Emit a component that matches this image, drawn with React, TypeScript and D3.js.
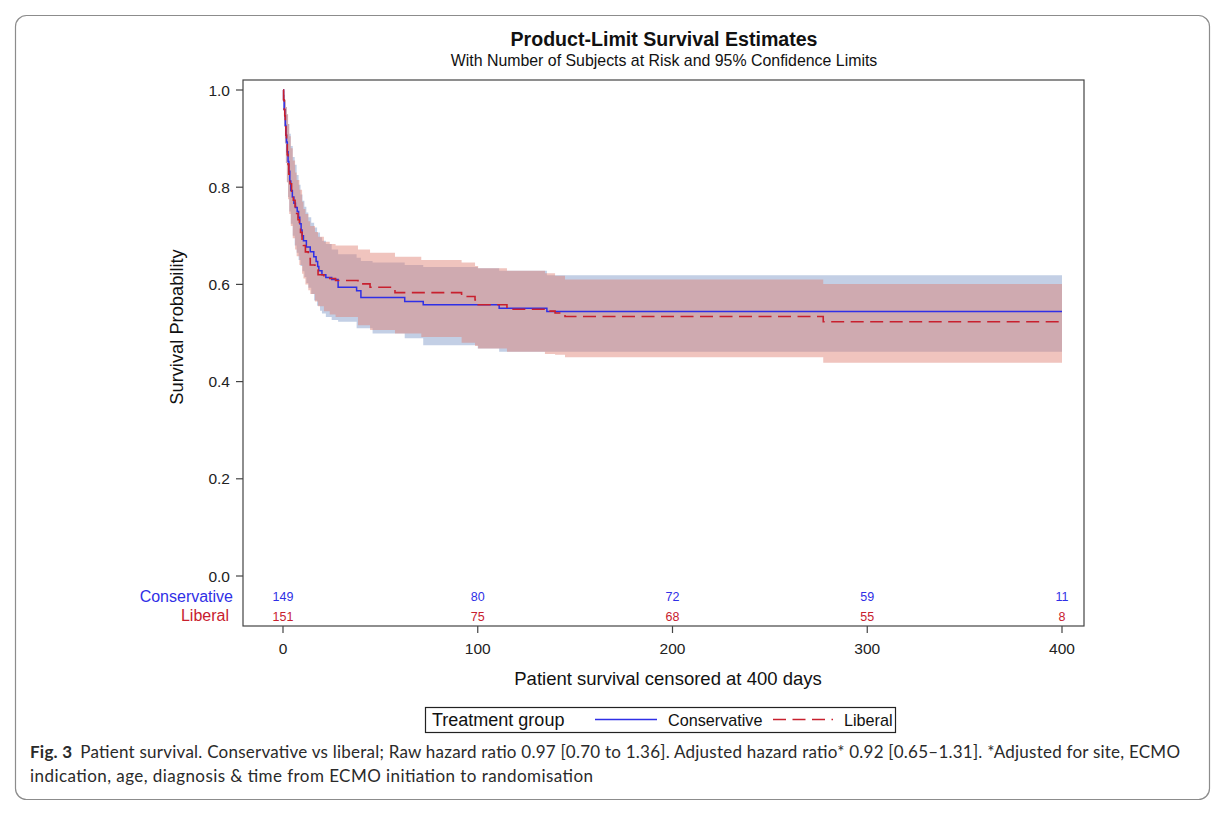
import React from 'react';
import * as d3 from 'd3';

// ---------- data ----------
const consTime = [0, 0.3, 0.6, 0.9, 1.2, 1.5, 1.8, 2.2, 2.6, 3.0, 3.5, 4.0, 4.8, 5.6, 6.4, 7.3, 8.0, 8.6, 9.3, 9.8, 10.5, 12, 14, 15.8, 17, 17.8, 18.4, 20, 22, 25, 28.3, 37.8, 40, 62.5, 72, 111, 135.5, 400];
const consSurv = [1, 0.98, 0.96, 0.947, 0.927, 0.907, 0.893, 0.873, 0.853, 0.833, 0.813, 0.793, 0.78, 0.767, 0.758, 0.75, 0.738, 0.725, 0.712, 0.7, 0.69, 0.677, 0.667, 0.657, 0.647, 0.637, 0.628, 0.62, 0.614, 0.61, 0.594, 0.587, 0.573, 0.565, 0.558, 0.551, 0.544, 0.544];

const libTime = [0, 0.3, 0.6, 0.9, 1.2, 1.5, 1.8, 2.2, 2.6, 3.0, 3.6, 4.4, 5.3, 6.2, 7.0, 7.7, 8.4, 9.0, 9.8, 10.5, 11.5, 13, 14, 16.4, 18, 21, 24, 27, 38.5, 44.7, 57.5, 91.7, 98.6, 100.2, 115, 134.5, 139.7, 144.8, 277.4, 400];
const libSurv = [1, 0.98, 0.96, 0.947, 0.927, 0.907, 0.887, 0.867, 0.847, 0.827, 0.807, 0.787, 0.773, 0.76, 0.746, 0.733, 0.72, 0.707, 0.693, 0.68, 0.667, 0.653, 0.64, 0.63, 0.62, 0.616, 0.612, 0.608, 0.601, 0.594, 0.583, 0.575, 0.568, 0.558, 0.549, 0.545, 0.541, 0.534, 0.523, 0.523];

const consBandTime = [0, 0.3, 0.6, 1.0, 1.5, 2.0, 2.6, 3.2, 4.0, 5.0, 6.0, 7.0, 8.0, 9.0, 10.0, 11.0, 12.0, 13.0, 14.5, 16.0, 17.5, 19.0, 20.0, 22.0, 25.0, 28.3, 37.8, 40, 46, 62.5, 72, 100, 111, 135.5, 400];
const consLower = [1, 0.96, 0.925, 0.89, 0.85, 0.81, 0.78, 0.75, 0.725, 0.7, 0.68, 0.665, 0.65, 0.638, 0.627, 0.615, 0.603, 0.593, 0.58, 0.567, 0.556, 0.546, 0.54, 0.533, 0.527, 0.523, 0.51, 0.51, 0.499, 0.489, 0.475, 0.468, 0.4615, 0.4615, 0.4615];
const consUpper = [1, 0.998, 0.99, 0.98, 0.965, 0.95, 0.93, 0.91, 0.885, 0.862, 0.846, 0.825, 0.805, 0.785, 0.772, 0.76, 0.748, 0.738, 0.727, 0.717, 0.707, 0.697, 0.69, 0.683, 0.672, 0.662, 0.655, 0.648, 0.645, 0.64, 0.636, 0.633, 0.628, 0.619, 0.619];

const libBandTime = [0, 0.3, 0.6, 1.0, 1.5, 2.0, 2.6, 3.2, 4.0, 5.0, 6.2, 7.0, 8.4, 9.8, 10.5, 11.5, 13, 14, 16.4, 18, 21, 24, 27, 38.5, 44.7, 57.5, 71, 91.7, 98.6, 100.2, 115, 134.5, 139.7, 144.8, 277.4, 400];
const libLower = [1, 0.96, 0.925, 0.89, 0.85, 0.81, 0.775, 0.745, 0.72, 0.695, 0.672, 0.658, 0.64, 0.622, 0.612, 0.6, 0.588, 0.58, 0.565, 0.555, 0.545, 0.538, 0.533, 0.516, 0.506, 0.499, 0.492, 0.48, 0.473, 0.468, 0.4615, 0.457, 0.455, 0.45, 0.439, 0.439];
const libUpper = [1, 0.998, 0.99, 0.98, 0.965, 0.95, 0.93, 0.905, 0.88, 0.855, 0.83, 0.815, 0.795, 0.77, 0.755, 0.745, 0.73, 0.72, 0.708, 0.698, 0.688, 0.683, 0.68, 0.672, 0.665, 0.657, 0.65, 0.645, 0.638, 0.633, 0.628, 0.623, 0.618, 0.61, 0.601, 0.601];

const xTicks = [0, 100, 200, 300, 400];
const yTicks = [0, 0.2, 0.4, 0.6, 0.8, 1.0];
const riskConservative = [149, 80, 72, 59, 11];
const riskLiberal = [151, 75, 68, 55, 8];
const groupNames = ['Conservative', 'Liberal'];

// ---------- styles ----------
const BLUE = '#2f2fe6';
const RED = '#c8202e';
const SANS = '"Liberation Sans", Arial, sans-serif';
const CAPTION = "Lato, 'Open Sans', sans-serif";

export default function App() {
  const left = 243, right = 1084, top = 80, bottom = 626;
  const x = d3.scaleLinear().domain([0, 400]).range([283, 1062]);
  const y = d3.scaleLinear().domain([0, 1]).range([576, 90]);

  const line = d3
    .line<[number, number]>()
    .x((d) => x(d[0]))
    .y((d) => y(d[1]))
    .curve(d3.curveStepAfter);

  type B = { t: number; lo: number; hi: number };
  const area = d3
    .area<B>()
    .x((d) => x(d.t))
    .y0((d) => y(d.lo))
    .y1((d) => y(d.hi))
    .curve(d3.curveStepAfter);

  const consPts = consTime.map((t, i) => [t, consSurv[i]] as [number, number]);
  const libPts = libTime.map((t, i) => [t, libSurv[i]] as [number, number]);
  const consBand: B[] = consBandTime.map((t, i) => ({ t, lo: consLower[i], hi: consUpper[i] }));
  const libBand: B[] = libBandTime.map((t, i) => ({ t, lo: libLower[i], hi: libUpper[i] }));

  return (
    <svg
      width={1220}
      height={816}
      style={{ position: 'absolute', left: 0, top: 0, background: '#fff' }}
      fontFamily={SANS}
    >
      <rect x={15.5} y={15.5} width={1194} height={784} rx={11} fill="#fff" stroke="#8c8c8c" strokeWidth={1.2} />

      {/* title */}
      <text x={664} y={46} textAnchor="middle" fontSize={19.6} fontWeight="bold" fill="#111">
        Product-Limit Survival Estimates
      </text>
      <text x={664} y={66} textAnchor="middle" fontSize={15.9} fill="#111">
        With Number of Subjects at Risk and 95% Confidence Limits
      </text>

      {/* bands */}
      <path d={area(consBand) || ''} fill="rgb(125,151,198)" fillOpacity={0.46} />
      <path d={area(libBand) || ''} fill="rgb(222,127,114)" fillOpacity={0.46} />

      {/* curves */}
      <path d={line(consPts) || ''} fill="none" stroke={BLUE} strokeWidth={1.5} />
      <path d={line(libPts) || ''} fill="none" stroke={RED} strokeWidth={1.6} strokeDasharray="13 6.5" />

      {/* frame */}
      <rect x={left} y={top} width={right - left} height={bottom - top} fill="none" stroke="#444" strokeWidth={1.2} />

      {/* y axis */}
      {yTicks.map((v) => (
        <g key={v}>
          <line x1={236} x2={left} y1={y(v)} y2={y(v)} stroke="#444" strokeWidth={1.2} />
          <text x={230} y={y(v) + 5.5} textAnchor="end" fontSize={15.5} fill="#222">
            {v.toFixed(1)}
          </text>
        </g>
      ))}
      <text
        transform={`translate(183,327) rotate(-90)`}
        textAnchor="middle"
        fontSize={18.3}
        fill="#111"
      >
        Survival Probability
      </text>

      {/* x axis */}
      {xTicks.map((v) => (
        <g key={v}>
          <line x1={x(v)} x2={x(v)} y1={bottom} y2={bottom + 7} stroke="#444" strokeWidth={1.2} />
          <text x={x(v)} y={654} textAnchor="middle" fontSize={15.5} fill="#222">
            {v}
          </text>
        </g>
      ))}
      <text x={668} y={685} textAnchor="middle" fontSize={18.5} fill="#111">
        Patient survival censored at 400 days
      </text>

      {/* risk table */}
      <text x={233} y={602} textAnchor="end" fontSize={16} fill={BLUE}>
        {groupNames[0]}
      </text>
      <text x={229} y={621} textAnchor="end" fontSize={16} fill={RED}>
        {groupNames[1]}
      </text>
      {xTicks.map((v, i) => (
        <g key={'r' + v}>
          <text x={x(v)} y={601} textAnchor="middle" fontSize={12.5} fill={BLUE}>
            {riskConservative[i]}
          </text>
          <text x={x(v)} y={620.5} textAnchor="middle" fontSize={12.5} fill={RED}>
            {riskLiberal[i]}
          </text>
        </g>
      ))}

      {/* legend */}
      <rect x={425.5} y={707.5} width={470} height={25} fill="#fff" stroke="#222" strokeWidth={1.2} />
      <svg x={426} y={708} width={142} height={24} overflow="hidden">
        <text x={6} y={18} fontSize={18} fill="#111" fontFamily={SANS}>
          Treatment group
        </text>
      </svg>
      <line x1={595} x2={657} y1={719.5} y2={719.5} stroke={BLUE} strokeWidth={1.5} />
      <text x={668} y={725.5} fontSize={16.2} fill="#111">
        {groupNames[0]}
      </text>
      <line x1={773} x2={833} y1={719.5} y2={719.5} stroke={RED} strokeWidth={1.5} strokeDasharray="13 6.5" />
      <text x={844} y={725.5} fontSize={16.2} fill="#111">
        {groupNames[1]}
      </text>

      {/* caption */}
      <text x={30} y={758} fontSize={17} fontFamily={CAPTION} fill="#2a2a2a" textLength={1150} lengthAdjust="spacing">
        <tspan fontWeight="bold">Fig. 3</tspan>
        <tspan dx={8}>
          Patient survival. Conservative vs liberal; Raw hazard ratio 0.97 [0.70 to 1.36]. Adjusted hazard ratio* 0.92 [0.65–1.31]. *Adjusted for site, ECMO
        </tspan>
      </text>
      <text x={30} y={782} fontSize={17} fontFamily={CAPTION} fill="#2a2a2a" textLength={563} lengthAdjust="spacing">
        indication, age, diagnosis &amp; time from ECMO initiation to randomisation
      </text>
    </svg>
  );
}
